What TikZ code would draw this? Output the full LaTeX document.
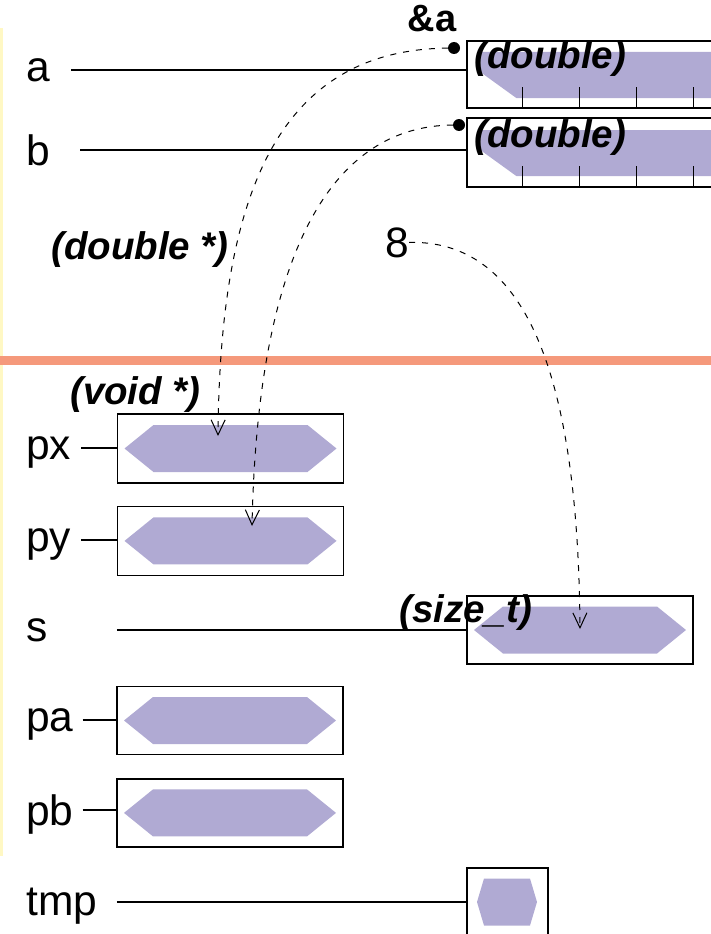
\documentclass[tikz,border=0pt]{standalone}
\usepackage{fontspec}
\setmainfont{Liberation Sans}
\usetikzlibrary{arrows.meta,positioning,calc}
\definecolor{valpurple}{RGB}{176,170,211}
\definecolor{stackline}{RGB}{245,153,123}
\definecolor{framebar}{RGB}{255,248,196}
\tikzset{
    cell/.style={rectangle, draw, line width=1.4pt, inner sep=0pt, minimum width=226pt, minimum height=68pt},
    vname/.style={font=\fontsize{42.5}{48}\selectfont, inner sep=0pt, anchor=west, text depth=0pt},
    tname/.style={font=\fontsize{38.5}{44}\selectfont\bfseries\itshape, inner sep=0pt, anchor=base west},
    wire/.style={draw, line width=1.3pt},
    ptr/.style={draw, line width=1pt, dash pattern=on 6pt off 7pt, -{Straight Barb[length=15pt,width=14pt]}},
    dot/.style={circle, fill, inner sep=0pt, minimum size=12pt}
}

\begin{document}
\begin{tikzpicture}[x=1pt, y=-1pt]
    \useasboundingbox (0,0) rectangle (711,934);
    \clip (0,0) rectangle (711,934);

    % Frame bar and stack/heap border
    \fill[framebar] (0,28) rectangle (3,856);
    \fill[stackline] (0,356) rectangle (711,365);

    % Variable names
    \node [vname] (la) at (26,70) {a};
    \node [vname] (lb) at (26,150) {b};
    \node [vname] (lpx) at (26,448) {px};
    \node [vname] (lpy) at (26,540) {py};
    \node [vname] (ls) at (26,630) {s};
    \node [vname] (lpa) at (26,720) {pa};
    \node [vname] (lpb) at (26,810) {pb};
    \node [vname] (ltmp) at (26,902) {tmp};

    % Value cells
    \node [cell, minimum width=313pt, minimum height=67pt] (ba) at (623.5,74.5) {};
    \node [cell, minimum width=313pt, minimum height=69pt] (bb) at (623.5,152.5) {};
    \node [cell, minimum height=69pt] (bpx) at (230.5,448.5) {};
    \node [cell, minimum height=69pt, below=22pt of bpx] (bpy) {};
    \node [cell] (bs) at (580,630) {};
    \node [cell] (bpa) at (230,720.5) {};
    \node [cell, below=23pt of bpa] (bpb) {};
    \node [cell, minimum width=81pt] (btmp) at (507.5,902) {};

    % Arrays of double
    \foreach \b in {ba,bb} {
        \fill[valpurple] ($(\b.west)+(14,-22.5)$) -- ++(0,20) -- ++(36,26) -- ++(280,0) -- ++(0,-46) -- cycle;
        \foreach \x in {56,113,170,227}
            \draw[line width=1.3pt] ($(\b.south west)+(\x,0)$) -- ++(0,-22);
    }

    % Scalar values
    \foreach \b in {bpx,bpy,bs,bpa,bpb}
        \fill[valpurple] ($(\b.center)+(-106,0)$) -- ++(29,-23.5) -- ++(154,0) -- ++(29,23.5) -- ++(-29,23.5) -- ++(-154,0) -- cycle;
    \fill[valpurple] ($(btmp.center)+(-30.5,0)$) -- ++(7,-23.5) -- ++(46,0) -- ++(7,23.5) -- ++(-7,23.5) -- ++(-46,0) -- cycle;

    % Name to cell
    \path [wire] ([xshift=21pt]la.east) -- (la.east -| ba.west);
    \path [wire] ([xshift=30pt]lb.east) -- (lb.east -| bb.west);
    \path [wire] ([xshift=10pt]lpx.east) -- (lpx.east -| bpx.west);
    \path [wire] ([xshift=10pt]lpy.east) -- (lpy.east -| bpy.west);
    \path [wire] (ls.east -| bpx.west) -- (ls.east -| bs.west);
    \path [wire] ([xshift=9pt]lpa.east) -- (lpa.east -| bpa.west);
    \path [wire] ([xshift=9pt]lpb.east) -- (lpb.east -| bpb.west);
    \path [wire] (ltmp.east -| bpx.west) -- (ltmp.east -| btmp.west);

    % Types
    \node [tname] (ta) at (474,68) {(double)};
    \node [tname] (tb) at (474,147) {(double)};
    \node [tname] (tdp) at (51,259) {(double *)};
    \node [tname] (tvp) at (70,404) {(void *)};
    \node [tname] (tsz) at (399,622) {(size\_t)};

    % Addresses and literal
    \node [dot] (adra) at (454,48) {};
    \node [dot] (adrb) at (459,125) {};
    \node [font=\fontsize{38}{44}\selectfont\bfseries, inner sep=0pt, anchor=base] (amp) at (432,32) {\&a};
    \node [font=\fontsize{42.5}{48}\selectfont, inner sep=0pt, anchor=base west] (eight) at (385,257) {8};

    % Pointers
    \coordinate (tpx) at (218,436);
    \coordinate (tpy) at (252,526);
    \coordinate (ts) at (580,629);
    \path [ptr] (adra) .. controls (280,50) and (220,190) .. (tpx);
    \path [ptr] (adrb) .. controls (335,126) and (258,245) .. (tpy);
    \path [ptr] (eight.east) .. controls (520,240) and (578,360) .. (ts);
\end{tikzpicture}
\end{document}
